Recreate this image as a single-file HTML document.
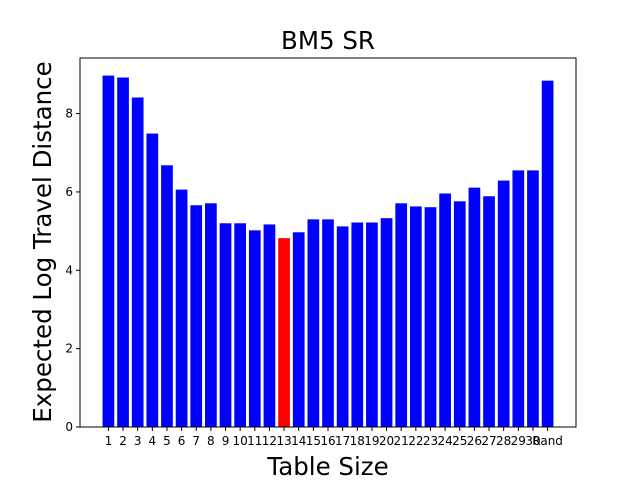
<!DOCTYPE html>
<html><head><meta charset="utf-8"><style>
body{margin:0;background:#fff;}
svg text{font-family:"DejaVu Sans","Liberation Sans",sans-serif;}
</style></head><body>
<svg id="chart" width="640" height="480" xmlns="http://www.w3.org/2000/svg">
<text x="328" y="49" text-anchor="middle" font-size="24.5">BM5 SR</text>
<text x="328" y="475" text-anchor="middle" font-size="24.5">Table Size</text>
<text transform="translate(51,242) rotate(-90)" text-anchor="middle" font-size="24.5">Expected Log Travel Distance</text>
<g id="bars"></g><g id="ticks"></g>
<rect x="80" y="58" width="496" height="369" fill="none" stroke="#000" stroke-width="1"/>
</svg>
<script>
const categories = ["1","2","3","4","5","6","7","8","9","10","11","12","13","14","15","16","17","18","19","20","21","22","23","24","25","26","27","28","29","30","Rand"];
const values = [8.97,8.92,8.41,7.49,6.68,6.06,5.66,5.71,5.20,5.20,5.02,5.17,4.82,4.97,5.30,5.30,5.12,5.22,5.22,5.33,5.71,5.63,5.61,5.96,5.76,6.11,5.89,6.29,6.55,6.55,8.84];
const highlight = ["13"];
const yTicks = [0,2,4,6,8];
const L=80,R=576,T=58,B=427,NS="http://www.w3.org/2000/svg";
const n=categories.length;
const x0=-0.4-0.05*(n-0.2), x1=n-1+0.4+0.05*(n-0.2);
const ymax=Math.max(...values)*1.05;
const X=v=>L+(v-x0)/(x1-x0)*(R-L);
const Y=v=>B-v/ymax*(B-T);
const bw=0.8*(R-L)/(x1-x0);
const gb=document.getElementById('bars'), gt=document.getElementById('ticks');
function mk(tag,a,p){const e=document.createElementNS(NS,tag);for(const k in a)e.setAttribute(k,a[k]);p.appendChild(e);return e;}
categories.forEach((c,i)=>{
  const r=mk('rect',{x:X(i)-bw/2,y:Y(values[i]),width:bw,height:B-Y(values[i]),fill:highlight.includes(c)?'#ff0000':'#0000ff'},gb);
  
  
  mk('line',{x1:X(i),x2:X(i),y1:B,y2:B+4,stroke:'#000'},gt);
  const t=mk('text',{x:X(i),y:B+18,'text-anchor':'middle','font-size':12},gt);
  t.textContent=c;
  
  
});
yTicks.forEach(v=>{
  mk('line',{x1:L-4,x2:L,y1:Y(v),y2:Y(v),stroke:'#000'},gt);
  const t=mk('text',{x:L-7,y:Y(v)+4,'text-anchor':'end','font-size':12},gt);
  t.textContent=v;
  
  
});
</script>
</body></html>
